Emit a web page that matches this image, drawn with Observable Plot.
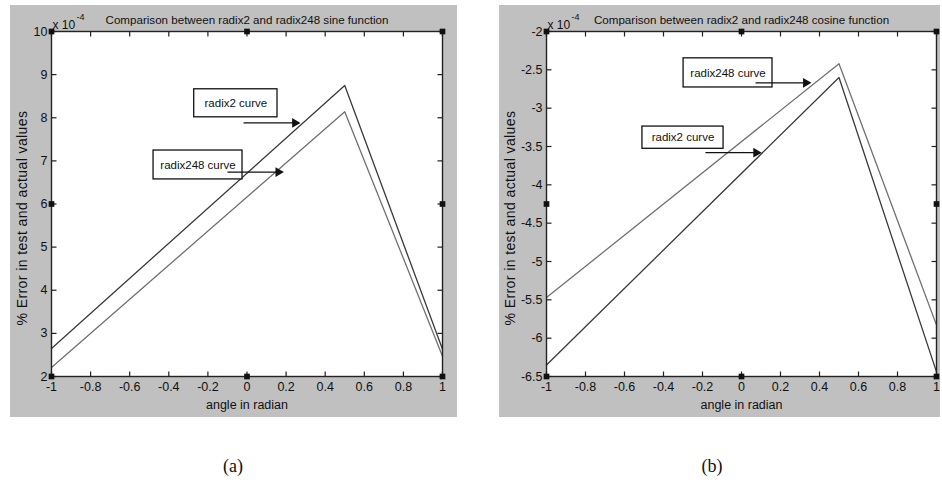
<!DOCTYPE html>
<html><head><meta charset="utf-8">
<script src="https://cdn.jsdelivr.net/npm/d3@7"></script>
<script src="https://cdn.jsdelivr.net/npm/@observablehq/plot@0.6"></script>
<style>
body{margin:0;background:#fff;}
#wrap{position:relative;width:942px;height:486px;background:#fff;overflow:hidden;}
.panel{position:absolute;top:5px;}
.cap{position:absolute;top:456px;font-family:"Liberation Serif","Times New Roman",serif;font-size:18px;transform:translateX(-50%);color:#111;}
</style></head><body><div id="wrap"></div>
<script>
// ---- data ----
const angle = [-1, 0.5, 1];
const sineRadix2 = [2.65, 8.75, 2.63];
const sineRadix248 = [2.21, 8.14, 2.47];
const cosRadix2 = [-6.35, -2.6, -6.44];
const cosRadix248 = [-5.47, -2.42, -5.83];
const xTicks = [-1, -0.8, -0.6, -0.4, -0.2, 0, 0.2, 0.4, 0.6, 0.8, 1];
const sineYTicks = [2, 3, 4, 5, 6, 7, 8, 9, 10];
const cosYTicks = [-2, -2.5, -3, -3.5, -4, -4.5, -5, -5.5, -6, -6.5];
const seriesNames = ["radix2", "radix248"];
const titles = ["Comparison between radix2 and radix248 sine function", "Comparison between radix2 and radix248 cosine function"];
const xLabel = "angle in radian";
const yLabel = "% Error in test and actual values";
const captions = ["(a)", "(b)"];
// annotation boxes and arrows (data units)
const sineLabels = [
  {text: "radix2 curve", x1: -0.27, x2: 0.156, y1: 8.01, y2: 8.66},
  {text: "radix248 curve", x1: -0.478, x2: -0.023, y1: 6.57, y2: 7.24}
];
const sineArrows = [
  {x1: -0.018, x2: 0.245, y: 7.88},
  {x1: -0.10, x2: 0.16, y: 6.74}
];
const cosLabels = [
  {text: "radix248 curve", x1: -0.297, x2: 0.159, y1: -2.73, y2: -2.35},
  {text: "radix2 curve", x1: -0.508, x2: -0.092, y1: -3.53, y2: -3.24}
];
const cosArrows = [
  {x1: 0.072, x2: 0.33, y: -2.67},
  {x1: -0.185, x2: 0.075, y: -3.58}
];

const colors = {radix2: "#3a3a3a", radix248: "#707070"};
const fam = "'Liberation Sans', Arial, sans-serif";

// inward tick glyphs
const tickUp = {draw(c) { c.moveTo(0, 0); c.lineTo(0, -5); }};
const tickDown = {draw(c) { c.moveTo(0, 0); c.lineTo(0, 5); }};
const tickRight = {draw(c) { c.moveTo(0, 0); c.lineTo(5, 0); }};
const tickLeft = {draw(c) { c.moveTo(0, 0); c.lineTo(-5, 0); }};

function panel({title, values, yTicks, labels, arrows, width, marginLeft, marginRight, yLabelOffset}) {
  const data = seriesNames.flatMap((name, k) => angle.map((x, i) => ({x, y: values[k][i], name})));
  const yDomain = [d3.min(yTicks), d3.max(yTicks)];
  const yMid = (yDomain[0] + yDomain[1]) / 2;
  const handles = [[-1, yDomain[1]], [0, yDomain[1]], [1, yDomain[1]], [-1, yMid], [1, yMid], [-1, yDomain[0]], [0, yDomain[0]], [1, yDomain[0]]];
  const fmt = d => String(d);
  const tk = {r: 1, fill: "none", stroke: "#222", strokeWidth: 1.2};
  const svg = Plot.plot({
    width, height: 412, marginLeft, marginRight, marginTop: 26, marginBottom: 41,
    style: {background: "#c0c0c0", fontFamily: fam, fontSize: "12px", color: "#111", overflow: "visible"},
    x: {domain: [-1, 1], labelArrow: "none"},
    y: {domain: yDomain, labelArrow: "none"},
    marks: [
      Plot.frame({fill: "white", stroke: null}),
      Plot.line(data, {x: "x", y: "y", z: "name", stroke: d => colors[d.name], strokeWidth: 1.3}),
      Plot.rect(labels, {x1: "x1", x2: "x2", y1: "y1", y2: "y2", fill: "white", stroke: "#111", strokeWidth: 1.3}),
      Plot.text(labels, {x: d => (d.x1 + d.x2) / 2, y: d => (d.y1 + d.y2) / 2, text: "text", fontSize: 11.5, fill: "#111"}),
      Plot.link(arrows, {x1: "x1", x2: "x2", y1: "y", y2: "y", stroke: "#111", strokeWidth: 1.3}),
      Plot.dot(arrows, {x: "x2", y: "y", symbol: "triangle", rotate: 90, r: 3.6, fill: "#111", stroke: null}),
      Plot.dot(xTicks, {x: d => d, y: () => yDomain[0], symbol: tickUp, ...tk}),
      Plot.dot(xTicks, {x: d => d, y: () => yDomain[1], symbol: tickDown, ...tk}),
      Plot.dot(yTicks, {y: d => d, x: () => -1, symbol: tickRight, ...tk}),
      Plot.dot(yTicks, {y: d => d, x: () => 1, symbol: tickLeft, ...tk}),
      Plot.frame({stroke: "#222", strokeWidth: 1.4}),
      Plot.axisX({anchor: "bottom", ticks: xTicks, tickSize: 0, tickPadding: 6, tickFormat: fmt, fontSize: 12.5, label: null}),
      Plot.axisY({anchor: "left", ticks: yTicks, tickSize: 0, tickPadding: 4, tickFormat: fmt, fontSize: 12.5, label: null}),
      Plot.text([xLabel], {frameAnchor: "bottom", text: d => d, dy: 32, fontSize: 12.5, fill: "#111"}),
      Plot.text([yLabel], {frameAnchor: "left", text: d => d, textAnchor: "middle", dx: -yLabelOffset, dy: 14, rotate: -90, fontSize: 14, fill: "#111"}),
      Plot.dot(handles, {x: d => d[0], y: d => d[1], symbol: "square", r: 3.2, fill: "#111", stroke: null}),
      Plot.text([title], {frameAnchor: "top", text: d => d, dy: -16, fontSize: 11.6, fill: "#111"}),
      Plot.text(["x 10"], {frameAnchor: "top-left", text: d => d, dx: 1, dy: -11, textAnchor: "start", fontSize: 12, fill: "#111"}),
      Plot.text(["-4"], {frameAnchor: "top-left", text: d => d, dx: 25, dy: -18, textAnchor: "start", fontSize: 9, fill: "#111"})
    ]
  });
  svg.querySelectorAll("text").forEach(t => { if (t.textContent === yLabel) t.style.letterSpacing = "0.4px"; });
  return svg;
}

const wrap = document.getElementById("wrap");
const left = panel({title: titles[0], values: [sineRadix2, sineRadix248], yTicks: sineYTicks, labels: sineLabels, arrows: sineArrows, width: 447, marginLeft: 41, marginRight: 15, yLabelOffset: 29});
left.classList.add("panel"); left.style.left = "10px";
const right = panel({title: titles[1], values: [cosRadix2, cosRadix248], yTicks: cosYTicks, labels: cosLabels, arrows: cosArrows, width: 441, marginLeft: 47, marginRight: 4, yLabelOffset: 36});
right.classList.add("panel"); right.style.left = "499px";
wrap.append(left, right);
[[captions[0], 233], [captions[1], 712]].forEach(([t, x]) => {
  const d = document.createElement("div");
  d.className = "cap"; d.textContent = t; d.style.left = x + "px";
  wrap.append(d);
});
</script></body></html>
